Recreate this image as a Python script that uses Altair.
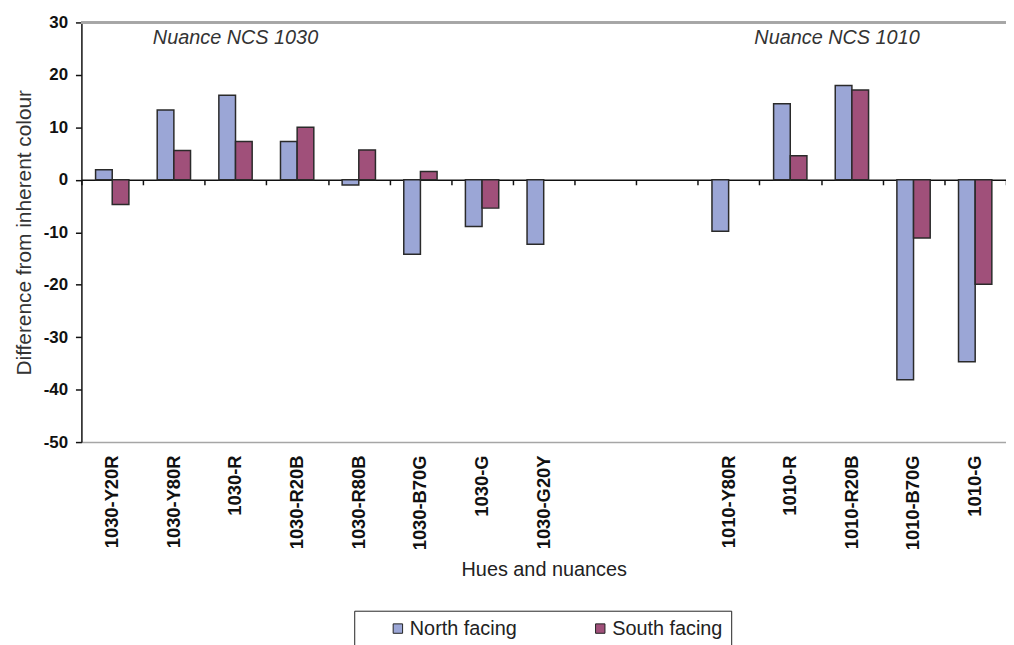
import altair as alt
import pandas as pd

categories = ["1030-Y20R", "1030-Y80R", "1030-R", "1030-R20B", "1030-R80B",
              "1030-B70G", "1030-G", "1030-G20Y", "gap1", "gap2",
              "1010-Y80R", "1010-R", "1010-R20B", "1010-B70G", "1010-G"]
north = [1.9, 13.3, 16.1, 7.3, -1.0, -14.2, -8.9, -12.3, None, None,
         -9.8, 14.5, 18.0, -38.1, -34.7]
south = [-4.7, 5.6, 7.3, 10.0, 5.7, 1.6, -5.4, None, None, None,
         None, 4.6, 17.1, -11.1, -19.9]
series = ["North facing", "South facing"]
colors = ["#9BA6D6", "#A0507A"]
y_ticks = [30, 20, 10, 0, -10, -20, -30, -40, -50]

rows = []
for c, n, s in zip(categories, north, south):
    if n is not None:
        rows.append({"cat": c, "series": series[0], "value": n})
    if s is not None:
        rows.append({"cat": c, "series": series[1], "value": s})
df = pd.DataFrame(rows)

ann1 = pd.DataFrame({"cat": ["1030-R"], "value": [26.6], "text": ["Nuance NCS 1030"]})
ann2 = pd.DataFrame({"cat": ["1010-R20B"], "value": [26.6], "text": ["Nuance NCS 1010"]})

W, H = 932, 423
FONT = "Liberation Sans"

xscale = alt.Scale(domain=categories, paddingInner=0, paddingOuter=0)
yscale = alt.Scale(domain=[-50, 30], nice=False)
yaxis = alt.Axis(values=y_ticks, labelFont=FONT, labelFontSize=17, labelFontWeight="bold",
                 labelColor="#111", labelExpr="datum.value + ''",
                 tickSize=6, tickColor="#111", tickWidth=1.5,
                 domainColor="#111", domainWidth=1.5, labelPadding=8, grid=False,
                 title="Difference from inherent colour", titleFont=FONT, titleFontSize=21,
                 titleFontWeight="normal", titleColor="#333", titlePadding=9)

label_axis = alt.Axis(orient="bottom", labelAngle=-90, labelAlign="right", labelBaseline="middle",
                      labelFont=FONT, labelFontSize=18.5, labelFontWeight="bold", labelColor="#111",
                      labelPadding=13, ticks=False, domainColor="#A6A6A6", domainWidth=1.5,
                      labelExpr="indexof(datum.value, 'gap') >= 0 ? '' : datum.value",
                      title="Hues and nuances", titleFont=FONT, titleFontSize=20,
                      titleFontWeight="normal", titleColor="#222", titlePadding=10, labelLimit=300)

tick_axis = alt.Axis(orient="bottom", offset=-H * 50 / 80, labels=False, title=None,
                     ticks=True, tickBand="extent", tickSize=5, tickColor="#111", tickWidth=1.5,
                     tickOpacity=1, domainColor="#111", domainWidth=1.5, grid=False)

bars = alt.Chart(df).mark_bar(stroke="#2a2a2a", strokeWidth=1.5).encode(
    x=alt.X("cat:N", scale=xscale, axis=label_axis, sort=categories),
    xOffset=alt.XOffset("series:N", scale=alt.Scale(domain=series, paddingInner=0, paddingOuter=0.85)),
    y=alt.Y("value:Q", scale=yscale, axis=yaxis),
    color=alt.Color("series:N", scale=alt.Scale(domain=series, range=colors),
                    legend=alt.Legend(orient="none", legendX=275, legendY=593,
                                      direction="horizontal", title=None,
                                      labelFont=FONT, labelFontSize=20, labelColor="#222",
                                      symbolType="square", symbolSize=90,
                                      symbolStrokeColor="#222", symbolStrokeWidth=1,
                                      symbolOpacity=1, columnPadding=48, symbolOffset=26,
                                      padding=8, strokeColor="#222", fillColor="white",
                                      labelOffset=2)),
)

zero_axis = alt.Chart(df).mark_bar(opacity=0).encode(
    x=alt.X("cat:N", scale=xscale, axis=tick_axis, sort=categories),
    y=alt.Y("value:Q", scale=yscale, axis=yaxis),
)

top_line = alt.Chart(df).mark_rule(color="#A6A6A6", strokeWidth=1.5).encode(
    y=alt.datum(30)
)

t1 = alt.Chart(ann1).mark_text(font=FONT, fontSize=20, fontStyle="italic", color="#333",
                               align="center", baseline="middle", dy=-2).encode(
    x=alt.X("cat:N", scale=xscale, axis=None, sort=categories),
    y=alt.Y("value:Q", scale=yscale, axis=yaxis),
    text="text:N",
)
t2 = alt.Chart(ann2).mark_text(font=FONT, fontSize=20, fontStyle="italic", color="#333",
                               align="center", baseline="middle", dx=-15, dy=-2).encode(
    x=alt.X("cat:N", scale=xscale, axis=None, sort=categories),
    y=alt.Y("value:Q", scale=yscale, axis=yaxis),
    text="text:N",
)

chart = alt.layer(zero_axis, bars, top_line, t1, t2).resolve_axis(x="independent").properties(
    width=W, height=H,
    autosize=alt.AutoSizeParams(type="none"),
    padding={"left": 74, "top": 12, "right": 0, "bottom": 202},
).configure_view(stroke=None).configure_axis(ticks=True)

chart.save("out.html", embed_options={"renderer": "svg", "actions": False})
